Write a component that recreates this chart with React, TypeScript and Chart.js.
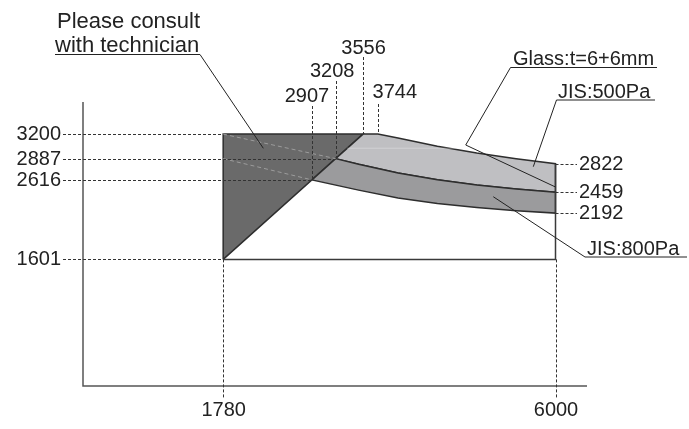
import React, { useEffect, useRef } from 'react';
import { Chart, registerables } from 'chart.js';

Chart.register(...registerables);

// ---- data ----
const leftTicks = [3200, 2887, 2616, 1601];
const leftTickReach = [1780, 3208, 2907, 1780];
const rightTicks = [2822, 2459, 2192];
const bottomTicks = [1780, 6000];
const topTicks = [2907, 3208, 3556, 3744];
const topTickReach = [2616, 2887, 3200, 3200];

const xStart = 1780;
const xEnd = 6000;
const baseY = 1601;
const capY = 3200;
const diagTopX = 3556;

const topCurveX = [3744, 4000, 4500, 5000, 5500, 6000];
const topCurveY = [3200, 3150, 3045, 2958, 2885, 2822];
const midCurveX = [3208, 3500, 4000, 4500, 5000, 5500, 6000];
const midCurveY = [2887, 2815, 2705, 2618, 2550, 2500, 2459];
const lowCurveX = [2907, 3500, 4000, 4500, 5000, 5500, 6000];
const lowCurveY = [2616, 2485, 2385, 2313, 2262, 2222, 2192];

const faintLineY = 3020;
const faintLineX = [3354, 6000];

const labelTexts = ['Please consult', 'with technician', 'Glass:t=6+6mm', 'JIS:500Pa', 'JIS:800Pa'];

type P = { x: number; y: number };
const pts = (xs: number[], ys: number[]): P[] => xs.map((x, i) => ({ x, y: ys[i] }));

const darkPoly: P[] = [
  { x: xStart, y: baseY },
  { x: xStart, y: capY },
  { x: diagTopX, y: capY },
  { x: xStart, y: baseY },
];
const lightPoly: P[] = [
  { x: diagTopX, y: capY },
  ...pts(topCurveX, topCurveY),
  ...pts(midCurveX, midCurveY).reverse(),
  { x: diagTopX, y: capY },
];
const midPoly: P[] = [
  ...pts(midCurveX, midCurveY),
  ...pts(lowCurveX, lowCurveY).reverse(),
  { x: midCurveX[0], y: midCurveY[0] },
];
const rectOutline: P[] = [
  { x: xStart, y: baseY },
  { x: xEnd, y: baseY },
  { x: xEnd, y: topCurveY[topCurveY.length - 1] },
];
const faintA: P[] = [
  { x: xStart, y: capY },
  { x: midCurveX[0], y: midCurveY[0] },
];
const faintB: P[] = [
  { x: xStart, y: midCurveY[0] },
  { x: lowCurveX[0], y: lowCurveY[0] },
];
const faintH: P[] = faintLineX.map((x) => ({ x, y: faintLineY }));

const FONT = '20px "Liberation Sans", Arial, sans-serif';
const FONT_BIG = '22px "Liberation Sans", Arial, sans-serif';
const INK = '#222';

const overlay = {
  id: 'overlay',
  afterDatasetsDraw(chart: any) {
    const ctx: CanvasRenderingContext2D = chart.ctx;
    const xs = chart.scales.x;
    const ys = chart.scales.y;
    const a = chart.chartArea;
    const X = (v: number) => xs.getPixelForValue(v);
    const Y = (v: number) => ys.getPixelForValue(v);
    ctx.save();

    // axes
    ctx.strokeStyle = '#555';
    ctx.lineWidth = 1.5;
    ctx.setLineDash([]);
    ctx.beginPath();
    ctx.moveTo(a.left, a.top);
    ctx.lineTo(a.left, a.bottom);
    ctx.lineTo(a.right, a.bottom);
    ctx.stroke();

    // dashed guides
    ctx.strokeStyle = '#333';
    ctx.lineWidth = 1;
    ctx.setLineDash([3, 2]);
    leftTicks.forEach((v, i) => {
      const y = Math.round(Y(v)) + 0.5;
      ctx.beginPath();
      ctx.moveTo(63, y);
      ctx.lineTo(X(leftTickReach[i]), y);
      ctx.stroke();
    });
    rightTicks.forEach((v) => {
      const y = Math.round(Y(v)) + 0.5;
      ctx.beginPath();
      ctx.moveTo(X(xEnd), y);
      ctx.lineTo(577, y);
      ctx.stroke();
    });
    bottomTicks.forEach((v) => {
      const x = Math.round(X(v)) + 0.5;
      ctx.beginPath();
      ctx.moveTo(x, Y(baseY));
      ctx.lineTo(x, 399);
      ctx.stroke();
    });
    const topStart = [106, 81, 57, 104];
    topTicks.forEach((v, i) => {
      const x = Math.round(X(v)) + 0.5;
      ctx.beginPath();
      ctx.moveTo(x, topStart[i]);
      ctx.lineTo(x, Y(topTickReach[i]));
      ctx.stroke();
    });
    ctx.setLineDash([]);

    // tick labels
    ctx.fillStyle = INK;
    ctx.font = FONT;
    ctx.textBaseline = 'middle';
    ctx.textAlign = 'right';
    leftTicks.forEach((v) => ctx.fillText(String(v), 61, Y(v) + 0.5));
    ctx.textAlign = 'left';
    rightTicks.forEach((v) => ctx.fillText(String(v), 579, Y(v) + 0.5));
    ctx.textAlign = 'center';
    bottomTicks.forEach((v) => ctx.fillText(String(v), X(v) + 0.5, 410));
    const topCx = [-5, -3.5, 0.5, 17];
    const topCy = [96, 71, 48, 92.5];
    topTicks.forEach((v, i) => ctx.fillText(String(v), X(v) + topCx[i], topCy[i]));

    // annotation texts
    ctx.textAlign = 'left';
    ctx.textBaseline = 'alphabetic';
    const texts = [
      { t: labelTexts[0], x: 57, y: 28, f: FONT_BIG, u: null as null | number[] },
      { t: labelTexts[1], x: 55, y: 52, f: FONT_BIG, u: [55, 200, 54.5] },
      { t: labelTexts[2], x: 513, y: 65, f: FONT, u: [510.5, 657, 67.5] },
      { t: labelTexts[3], x: 558, y: 97.5, f: FONT, u: [556.5, 655, 100] },
      { t: labelTexts[4], x: 587, y: 254.5, f: FONT, u: [585, 687, 257] },
    ];
    texts.forEach((o) => {
      ctx.font = o.f;
      ctx.fillText(o.t, o.x, o.y);
    });

    ctx.strokeStyle = INK;
    ctx.lineWidth = 1;
    texts.forEach((o) => {
      if (!o.u) return;
      ctx.beginPath();
      ctx.moveTo(o.u[0], o.u[2]);
      ctx.lineTo(o.u[1], o.u[2]);
      ctx.stroke();
    });

    // leader lines: start at underline end, tip inside data region
    const leaders: { from: number[]; via?: number[]; to: number[] }[] = [
      { from: [200, 54.5], to: [2290, 3019] },
      { from: [510.5, 67.5], via: [4860, 3061], to: [6000, 2525] },
      { from: [556.5, 100], to: [5718, 2784] },
      { from: [585, 257], to: [5210, 2401] },
    ];
    leaders.forEach((l) => {
      ctx.beginPath();
      ctx.moveTo(l.from[0], l.from[1]);
      if (l.via) ctx.lineTo(X(l.via[0]), Y(l.via[1]));
      ctx.lineTo(X(l.to[0]), Y(l.to[1]));
      ctx.stroke();
    });

    ctx.restore();
  },
};

export default function App() {
  const ref = useRef<HTMLCanvasElement>(null);
  useEffect(() => {
    document.body.style.margin = '0';
    const line = (data: P[], extra: any) => ({
      data,
      pointRadius: 0,
      tension: 0,
      borderWidth: 1.5,
      borderColor: '#2e2e2e',
      fill: false,
      ...extra,
    });
    const chart = new Chart(ref.current as HTMLCanvasElement, {
      type: 'line',
      data: {
        datasets: [
          line(faintA, { borderColor: '#9c9c9c', borderWidth: 1, borderDash: [4, 3], order: 1 }),
          line(faintB, { borderColor: '#9c9c9c', borderWidth: 1, borderDash: [4, 3], order: 1 }),
          line(faintH, { borderColor: 'rgba(255,255,255,0.3)', borderWidth: 1, order: 2 }),
          line(rectOutline, { borderColor: '#3a3a3a', order: 3 }),
          line(midPoly, { backgroundColor: '#9b9b9d', fill: 'shape', order: 4 }),
          line(lightPoly, { backgroundColor: '#bfbfc2', fill: 'shape', order: 5 }),
          line(darkPoly, { backgroundColor: '#6a6a6a', fill: 'shape', order: 6 }),
        ] as any,
      },
      options: {
        responsive: false,
        animation: false,
        events: [],
        layout: { padding: { left: 83, right: 102, top: 102, bottom: 43 } },
        scales: {
          x: { type: 'linear', min: 0, max: 6400, display: false },
          y: { type: 'linear', min: -15, max: 3610, display: false },
        },
        plugins: {
          legend: { display: false },
          tooltip: { enabled: false },
        },
      } as any,
      plugins: [overlay],
    });
    return () => chart.destroy();
  }, []);
  return (
    <div style={{ width: 689, height: 429 }}>
      <canvas ref={ref} width={689} height={429} style={{ display: 'block' }} />
    </div>
  );
}
